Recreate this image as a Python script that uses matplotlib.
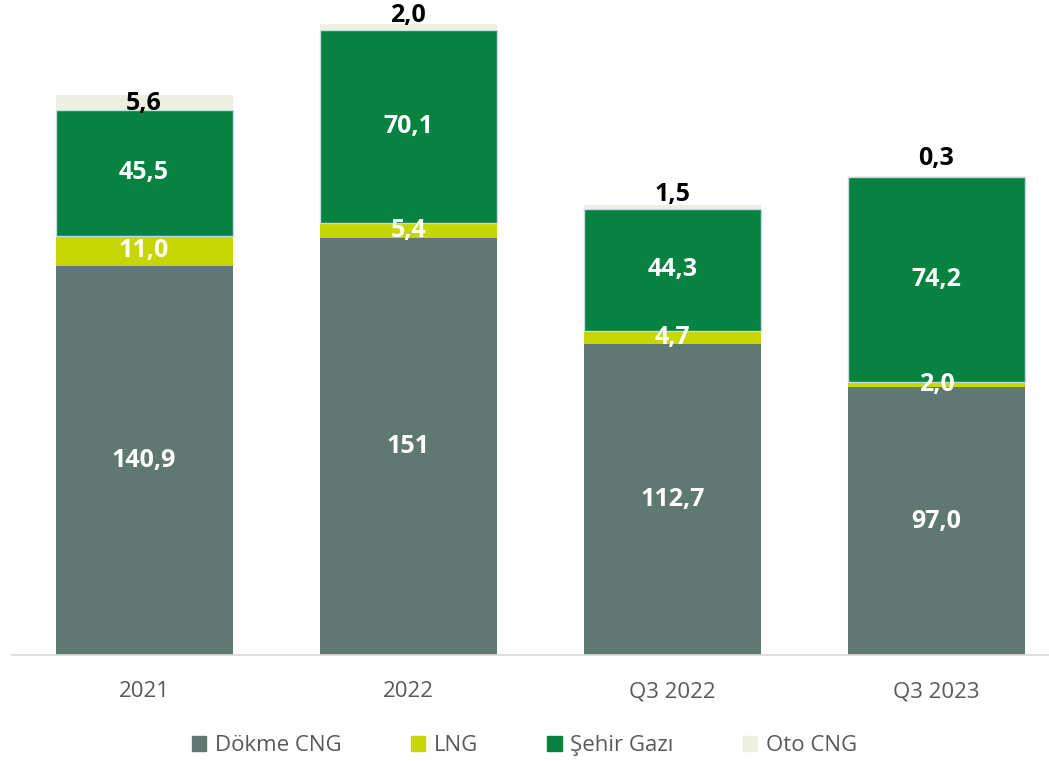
import numpy as np
import matplotlib
matplotlib.use('Agg')
import matplotlib.pyplot as plt
from matplotlib.patches import Patch

# ---- data ----
categories = ["2021", "2022", "Q3 2022", "Q3 2023"]
series_names = ["Dökme CNG", "LNG", "Şehir Gazı", "Oto CNG"]
dokme_cng = [140.9, 151.0, 112.7, 97.0]
lng = [11.0, 5.4, 4.7, 2.0]
sehir_gazi = [45.5, 70.1, 44.3, 74.2]
oto_cng = [5.6, 2.0, 1.5, 0.3]
dokme_labels = ["140,9", "151", "112,7", "97,0"]

colors = ["#5F7872", "#C5D600", "#068241", "#EDEFE0"]
# vertical offset (points) of the Oto CNG labels relative to segment centre
oto_offsets = [-1, 8, 8.5, 13]

plt.rcParams['font.family'] = ['Open Sans', 'DejaVu Sans']

fig = plt.figure(figsize=(10.49, 7.61), dpi=100)
ax = fig.add_axes([12 / 1049, 106 / 761, 1037 / 1049, 655 / 761])

x = np.arange(len(categories))
w = 0.67
series = [dokme_cng, lng, sehir_gazi, oto_cng]
bottom = np.zeros(len(categories))
for i, (vals, col) in enumerate(zip(series, colors)):
    vals = np.array(vals)
    ec = "#C9D6E6" if i == 2 else col
    lw = 1.0 if i == 2 else 0
    ax.bar(x, vals, w, bottom=bottom, color=col, edgecolor=ec, linewidth=lw, zorder=2)
    for j, v in enumerate(vals):
        if i == 3:
            ax.annotate(f"{v:.1f}".replace('.', ','), (x[j], bottom[j] + v / 2),
                        xytext=(0, oto_offsets[j]), textcoords='offset points',
                        ha='center', va='center', fontsize=18, fontweight='bold',
                        color='black', zorder=3)
        else:
            txt = dokme_labels[j] if i == 0 else f"{v:.1f}".replace('.', ',')
            ax.text(x[j], bottom[j] + v / 2, txt, ha='center', va='center',
                    fontsize=18, fontweight='bold', color='white', zorder=3)
    bottom = bottom + vals

ax.set_xlim(-0.5, 3.426)
ax.set_ylim(0, 237.3)
ax.set_yticks([])
for s in ['top', 'right', 'left']:
    ax.spines[s].set_visible(False)
ax.spines['bottom'].set_color('#D9D9D9')
ax.spines['bottom'].set_linewidth(1.2)
ax.set_xticks(x)
ax.set_xticklabels(categories, fontsize=16, color='#595959')
ax.tick_params(axis='x', length=0, pad=19)

handles = [Patch(facecolor=c, edgecolor=c) for c in colors]
fig.legend(handles, series_names, loc='lower center', bbox_to_anchor=(0.5, -0.02),
           ncol=4, frameon=False, fontsize=16, labelcolor='#595959',
           handlelength=0.65, handleheight=0.65, handletextpad=0.4, columnspacing=3.1)

fig.savefig("out.png", dpi=100)
